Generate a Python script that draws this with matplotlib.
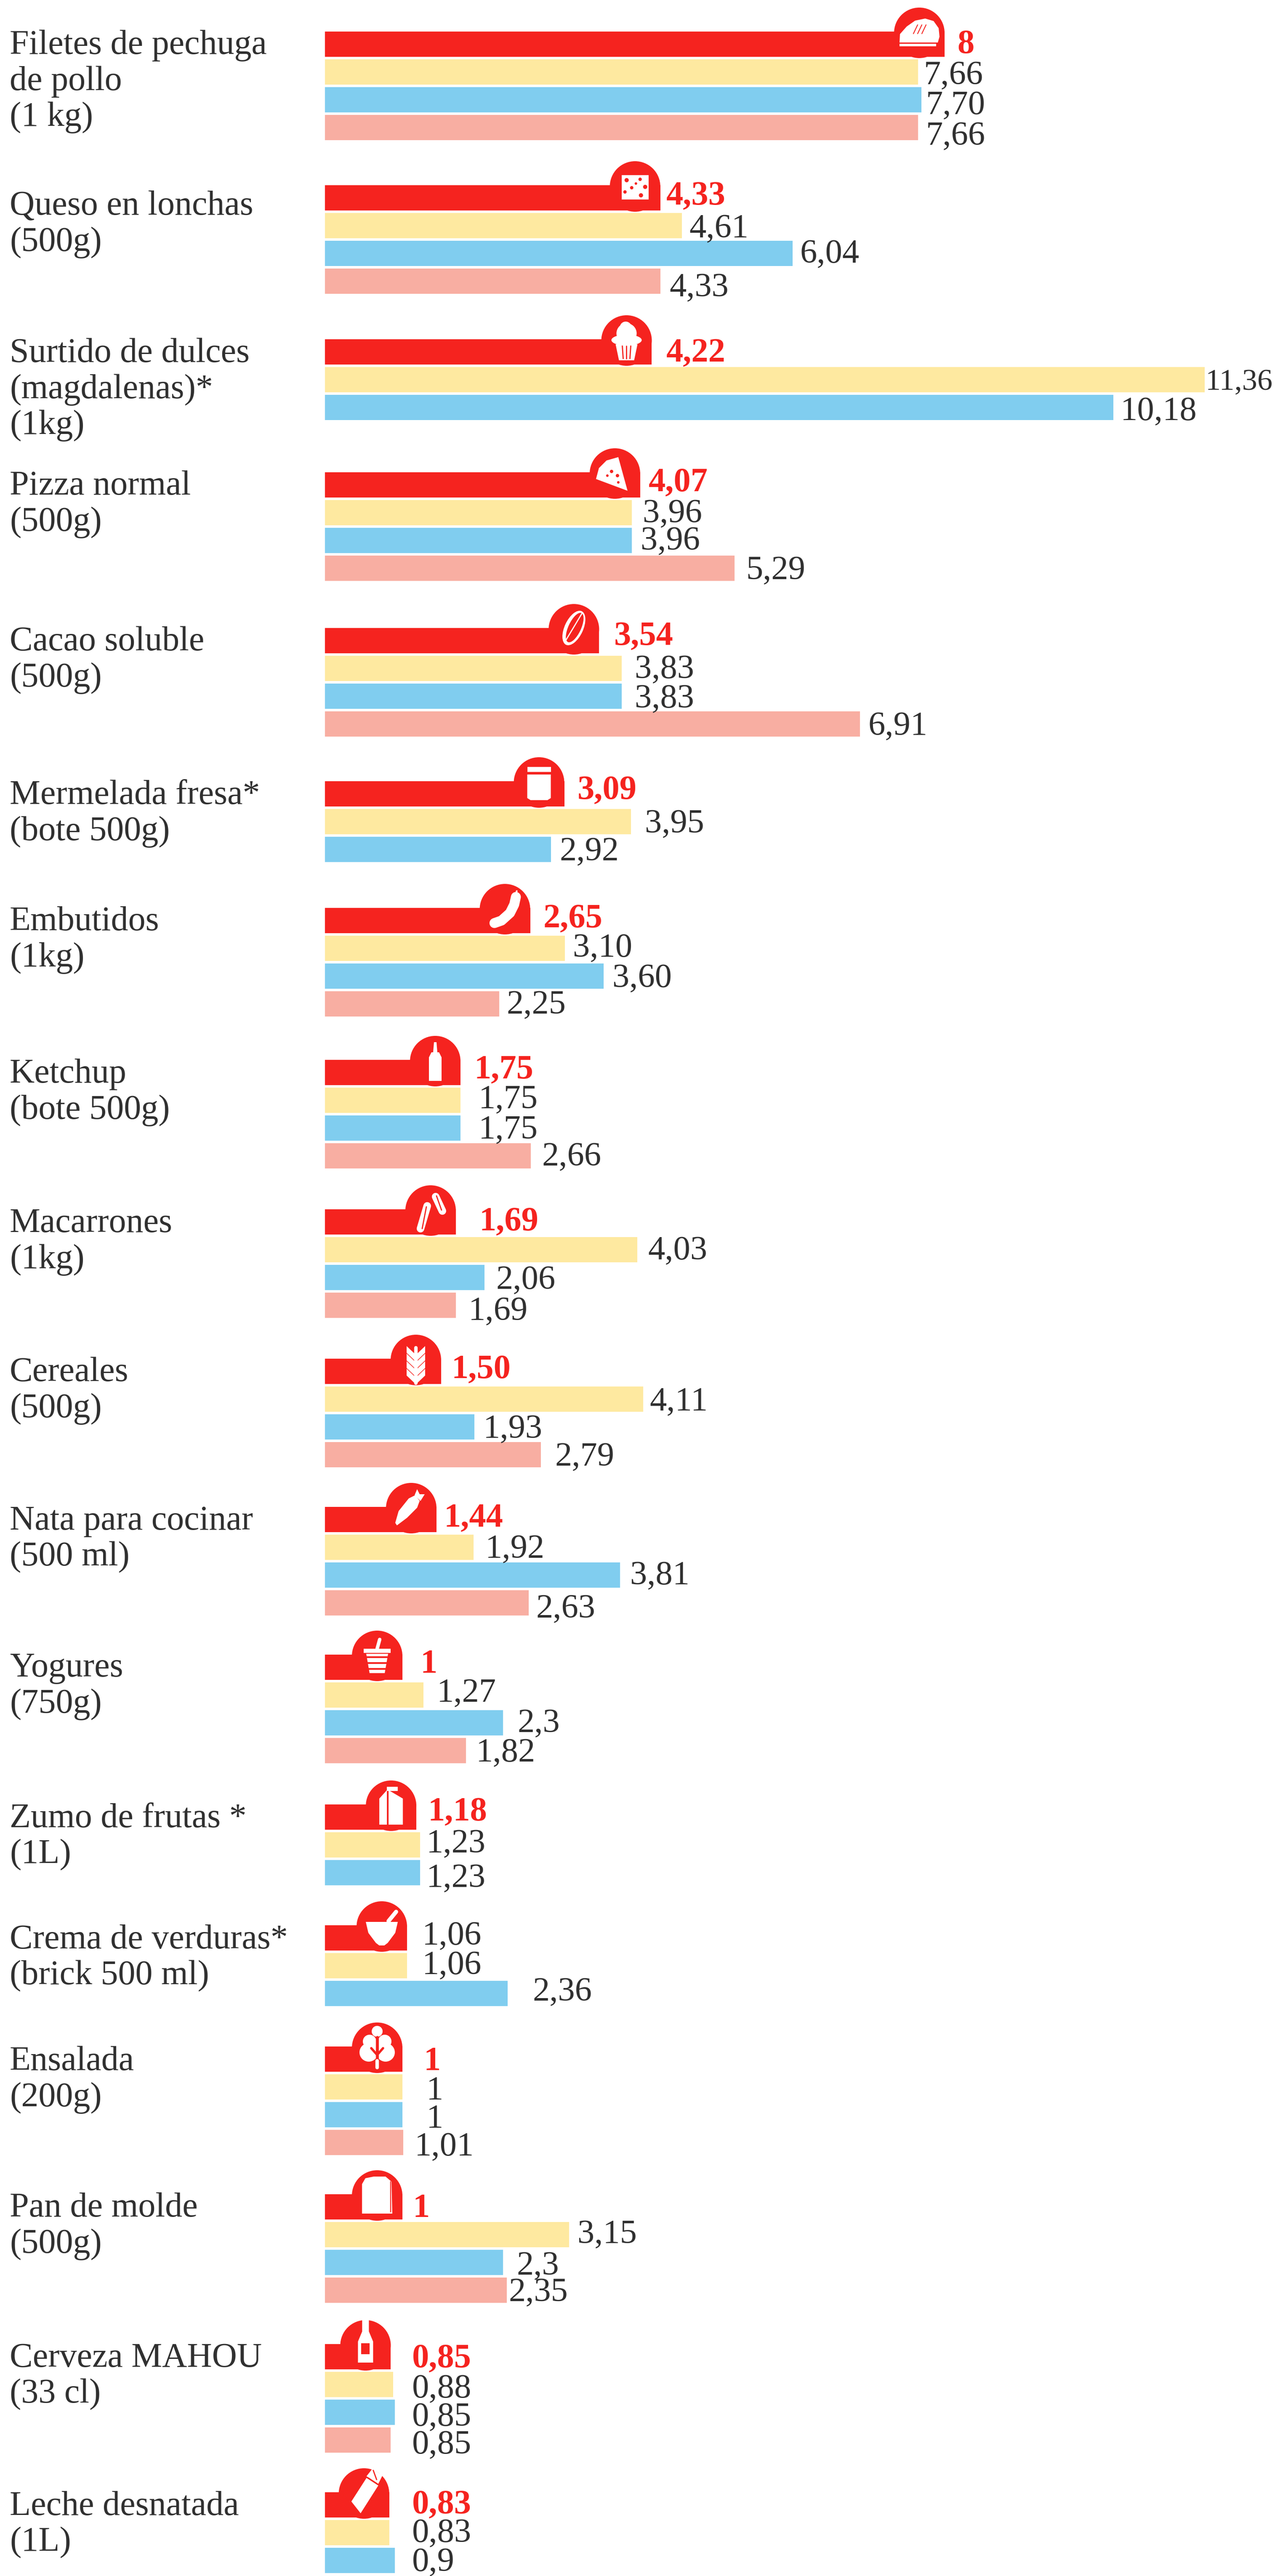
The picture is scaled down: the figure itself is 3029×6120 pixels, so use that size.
import matplotlib
matplotlib.use("Agg")
import matplotlib.pyplot as plt
from matplotlib.patches import Circle, Polygon, Rectangle, Ellipse
from matplotlib.transforms import Affine2D

W, H = 3029, 6120
X0 = 772       # pixel where the bars start
PX_PER_UNIT = 184
BAR_H = 60
BAR_STEP = 66

RED = "#F5231F"
YELLOW = "#FEE9A0"
BLUE = "#80CDEF"
PINK = "#F8AEA2"
INK = "#303030"

products = [
    ["Filetes de pechuga", "de pollo", "(1 kg)"],
    ["Queso en lonchas", "(500g)"],
    ["Surtido de dulces", "(magdalenas)*", "(1kg)"],
    ["Pizza normal", "(500g)"],
    ["Cacao soluble", "(500g)"],
    ["Mermelada fresa*", "(bote 500g)"],
    ["Embutidos", "(1kg)"],
    ["Ketchup", "(bote 500g)"],
    ["Macarrones", "(1kg)"],
    ["Cereales", "(500g)"],
    ["Nata para cocinar", "(500 ml)"],
    ["Yogures", "(750g)"],
    ["Zumo de frutas *", "(1L)"],
    ["Crema de verduras*", "(brick 500 ml)"],
    ["Ensalada", "(200g)"],
    ["Pan de molde", "(500g)"],
    ["Cerveza MAHOU", "(33 cl)"],
    ["Leche desnatada", "(1L)"],
]

# bar lengths as drawn
red_vals = [8, 4.33, 4.22, 4.07, 3.54, 3.09, 2.65, 1.75, 1.69, 1.50, 1.44, 1.0, 1.18, 1.06, 1.0, 1.0, 0.85, 0.83]
yellow_vals = [7.66, 4.61, 11.36, 3.96, 3.83, 3.95, 3.10, 1.75, 4.03, 4.11, 1.92, 1.27, 1.23, 1.06, 1.0, 3.15, 0.88, 0.83]
blue_vals = [7.70, 6.04, 10.18, 3.96, 3.83, 2.92, 3.60, 1.75, 2.06, 1.93, 3.81, 2.3, 1.23, 2.36, 1.0, 2.3, 0.90, 0.9]
pink_vals = [7.66, 4.33, None, 5.29, 6.91, None, 2.25, 2.66, 1.69, 2.79, 2.63, 1.82, None, None, 1.01, 2.35, 0.85, None]

# value labels as printed
red_txt = ["8", "4,33", "4,22", "4,07", "3,54", "3,09", "2,65", "1,75", "1,69", "1,50", "1,44", "1", "1,18", "1,06", "1", "1", "0,85", "0,83"]
yellow_txt = ["7,66", "4,61", "11,36", "3,96", "3,83", "3,95", "3,10", "1,75", "4,03", "4,11", "1,92", "1,27", "1,23", "1,06", "1", "3,15", "0,88", "0,83"]
blue_txt = ["7,70", "6,04", "10,18", "3,96", "3,83", "2,92", "3,60", "1,75", "2,06", "1,93", "3,81", "2,3", "1,23", "2,36", "1", "2,3", "0,85", "0,9"]
pink_txt = ["7,66", "4,33", None, "5,29", "6,91", None, "2,25", "2,66", "1,69", "2,79", "2,63", "1,82", None, None, "1,01", "2,35", "0,85", None]

# layout, in pixels of the picture
group_top = [75, 440, 806, 1122, 1492, 1856, 2157, 2518, 2873, 3228, 3580, 3931, 4287, 4574, 4862, 5213, 5569, 5921]
name_base = [128, 510, 860, 1175, 1545, 1910, 2210, 2572, 2927, 3281, 3634, 3983, 4341, 4629, 4918, 5266, 5623, 5975]
label_pos = [
    [(2274, 126), (2195, 200), (2200, 271), (2200, 344)],
    [(1583, 486), (1637, 564), (1901, 624), (1590, 704)],
    [(1583, 859), (2864, 926), (2662, 998)],
    [(1541, 1167), (1527, 1241), (1522, 1306), (1772, 1376)],
    [(1459, 1532), (1508, 1611), (1508, 1681), (2063, 1746)],
    [(1372, 1898), (1532, 1978), (1330, 2044)],
    [(1291, 2203), (1361, 2273), (1455, 2345), (1204, 2408)],
    [(1127, 2562), (1137, 2632), (1137, 2704), (1288, 2769)],
    [(1139, 2923), (1539, 2992), (1179, 3062), (1113, 3136)],
    [(1073, 3274), (1543, 3350), (1148, 3416), (1319, 3482)],
    [(1055, 3627), (1153, 3701), (1497, 3764), (1274, 3843)],
    [(999, 3974), (1038, 4043), (1230, 4115), (1131, 4185)],
    [(1017, 4325), (1013, 4401), (1013, 4483)],
    [(1003, 4620), (1003, 4690), (1266, 4753)],
    [(1007, 4918), (1013, 4988), (1013, 5055), (985, 5121)],
    [(981, 5267), (1372, 5329), (1228, 5404), (1209, 5467)],
    [(979, 5624), (979, 5696), (979, 5763), (979, 5829)],
    [(979, 5971), (979, 6039), (979, 6108)],
]

plt.rcParams["font.family"] = ["Liberation Serif", "DejaVu Serif"]

fig = plt.figure(figsize=(W / 100, H / 100), dpi=100, facecolor="white")
ax = fig.add_axes([0, 0, 1, 1])
ax.set_xlim(-X0 / PX_PER_UNIT, (W - X0) / PX_PER_UNIT)
ax.set_ylim(H, 0)
ax.axis("off")

# picture pixels -> data, for the text and the icons
pix = Affine2D().scale(1 / PX_PER_UNIT, 1).translate(-X0 / PX_PER_UNIT, 0) + ax.transData

series = [(red_vals, RED), (yellow_vals, YELLOW), (blue_vals, BLUE), (pink_vals, PINK)]
for k, (vals, col) in enumerate(series):
    for top, v in zip(group_top, vals):
        if v is not None:
            ax.barh(top + k * BAR_STEP + BAR_H / 2, v, height=BAR_H, color=col, linewidth=0, zorder=2)

# names on the left
for lines, base in zip(products, name_base):
    for i, line in enumerate(lines):
        ax.text(23, base + i * 85.5, line, transform=pix, fontsize=59, color=INK, va="baseline", ha="left")

# values next to the bars
all_txt = [red_txt, yellow_txt, blue_txt, pink_txt]
for g, positions in enumerate(label_pos):
    texts = [t[g] for t in all_txt if t[g] is not None]
    for k, (txt, (x, base)) in enumerate(zip(texts, positions)):
        # the top line of Crema de verduras is printed in black
        is_red = k == 0 and g != 13
        # 11,36 would run off the right edge at full size
        size = 52 if txt == "11,36" else 58
        ax.text(x, base, txt, transform=pix, fontsize=size, va="baseline", ha="left",
                color=RED if is_red else INK, fontweight="bold" if is_red else "normal")


class Icon:
    # small drawing helper, coordinates relative to the dome centre / bar top
    def __init__(self, cx, top):
        self.t = Affine2D().translate(cx, top) + pix

    def poly(self, pts, col="white"):
        ax.add_patch(Polygon(pts, closed=True, facecolor=col, edgecolor="none", transform=self.t, zorder=4))

    def circ(self, x, y, r, col="white"):
        ax.add_patch(Circle((x, y), r, facecolor=col, edgecolor="none", transform=self.t, zorder=4))

    def ell(self, x, y, w, h, ang, col="white"):
        ax.add_patch(Ellipse((x, y), w, h, angle=ang, facecolor=col, edgecolor="none", transform=self.t, zorder=4))

    def line(self, xs, ys, lw, col="white"):
        ax.plot(xs, ys, color=col, lw=lw, transform=self.t, solid_capstyle="round", zorder=5)


def fillet(i):
    i.poly([(-47, 26), (-46, 6), (-30, -12), (-10, -26), (14, -31), (34, -25), (46, -8), (48, 12), (44, 26)])
    i.poly([(-47, 29), (40, 29), (40, 35), (-47, 35)])
    for dx in (-6, 4, 14):
        i.line([dx - 8, dx + 2], [5, -16], 1.5, RED)


def cheese(i):
    i.poly([(-32, -24), (32, -24), (32, 34), (-32, 34)])
    for x, y, r in [(-20, -12, 5), (12, -14, 4), (24, 4, 5), (-8, 6, 4), (-24, 16, 4), (14, 24, 5), (2, -4, 3)]:
        i.circ(x, y, r, RED)


def muffin(i):
    i.circ(-2, -28, 14)
    i.circ(0, -14, 24)
    i.ell(0, 2, 72, 26, 0)
    i.poly([(-26, 12), (26, 12), (18, 50), (-18, 50)])
    for dx in (-10, 0, 10):
        i.line([dx, dx * 0.8], [16, 46], 2, RED)


def pizza(i):
    i.poly([(-45, 16), (-38, -10), (-20, -28), (8, -36), (30, 44)])
    for x, y, r in [(-8, -2, 4), (6, 8, 4), (-18, 8, 3), (8, 24, 3)]:
        i.circ(x, y, r, RED)


def bean(i):
    i.ell(0, 0, 44, 88, 25)
    i.ell(2, -1, 30, 76, 25, RED)
    i.line([-22, 20], [34, -36], 2)


def jar(i):
    i.poly([(-28, -34), (28, -34), (28, -22), (-28, -22)])
    i.poly([(-28, -16), (28, -16), (28, 40), (20, 45), (-20, 45), (-28, 40)])


def sausage(i):
    i.line([-25, -8, 12, 22, 26], [36, 30, 12, -8, -26], 17)
    i.line([-33, -30], [36, 30], 3)
    i.line([26, 28], [-32, -40], 3)


def ketchup(i):
    i.poly([(-15, -6), (15, -6), (15, 50), (-15, 50)])
    i.poly([(-9, -18), (9, -18), (15, -6), (-15, -6)])
    i.poly([(-3, -42), (3, -42), (5, -18), (-5, -18)])


def pasta(i):
    i.line([-24, -8], [46, -8], 13)
    i.line([12, 28], [-30, 4], 13)
    i.line([14, 26], [-32, 2], 2, RED)
    i.line([-20, -10], [46, -6], 2, RED)


def wheat(i):
    i.line([0, 0], [-26, 58], 6)
    for dy in (-30, -12, 6, 24):
        i.poly([(-3, dy + 18), (-3, dy + 34), (-22, dy + 16), (-22, dy)])
        i.poly([(3, dy + 18), (3, dy + 34), (22, dy + 16), (22, dy)])


def carrot(i):
    i.poly([(-38, 38), (-30, 10), (-6, -20), (10, -28), (20, -14), (14, 2), (-10, 26), (-34, 44)])
    i.poly([(8, -28), (14, -42), (20, -30), (32, -30), (22, -14)])


def cup(i):
    i.poly([(-32, -14), (32, -14), (32, -4), (-32, -4)])
    i.poly([(-26, -2), (26, -2), (18, 44), (-18, 44)])
    i.line([0, 6], [-14, -36], 6)
    for dy in (6, 20, 34):
        i.line([-28, 28], [dy, dy], 3, RED)


def carton(i):
    i.poly([(-28, -14), (-10, -34), (-10, 48), (-28, 48)])
    i.poly([(-6, -34), (28, -14), (28, 48), (-6, 48)])
    i.poly([(-10, -42), (16, -42), (16, -32), (-10, -32)])


def bowl(i):
    i.poly([(-38, -8), (38, -8), (32, 18), (14, 42), (6, 48), (-6, 48), (-14, 42), (-32, 18)])
    i.line([16, 34], [-10, -32], 7)


def leaf(i):
    for x, y, r in [(0, -36, 13), (-18, -12, 16), (18, -12, 16), (-20, 14, 22), (20, 14, 22), (0, 6, 22)]:
        i.circ(x, y, r)
    i.line([0, 0], [-22, 34], 5, RED)
    i.line([0, 0], [34, 50], 6)
    i.line([-14, 0], [4, 20], 4, RED)
    i.line([14, 0], [4, 20], 4, RED)


def bread(i):
    i.poly([(-36, -24), (-28, -38), (-8, -42), (20, -42), (34, -30), (36, 46), (-36, 46)])
    i.line([32, 32], [-30, 42], 1.5, RED)


def bottle(i):
    i.poly([(-8, -62), (8, -62), (8, -30), (18, -6), (18, 44), (-18, 44), (-18, -6), (-8, -30)])
    i.poly([(-10, -2), (10, -2), (10, 24), (-10, 24)], RED)


def milk(i):
    i.poly([(-30, 22), (6, -34), (34, -16), (-8, 50)])
    i.poly([(6, -38), (20, -56), (44, -40), (34, -20)])
    i.line([10, 34], [-34, -18], 2, RED)
    i.line([22, 30], [-52, -30], 2, RED)


icons = [fillet, cheese, muffin, pizza, bean, jar, sausage, ketchup, pasta, wheat,
         carrot, cup, carton, bowl, leaf, bread, bottle, milk]

# red tab with the dome at the end of each red bar
for top, v, draw in zip(group_top, red_vals, icons):
    end = X0 + v * PX_PER_UNIT
    cx = end - 60
    t = Affine2D().translate(cx, top) + pix
    ax.add_patch(Circle((0, 3), 60, facecolor=RED, edgecolor="none", transform=t, zorder=3))
    ax.add_patch(Rectangle((-60, 3), 120, 57, facecolor=RED, edgecolor="none", transform=t, zorder=3))
    draw(Icon(cx, top))

ax.set_xlim(-X0 / PX_PER_UNIT, (W - X0) / PX_PER_UNIT)
ax.set_ylim(H, 0)

fig.savefig("out.png", dpi=100, facecolor="white")
